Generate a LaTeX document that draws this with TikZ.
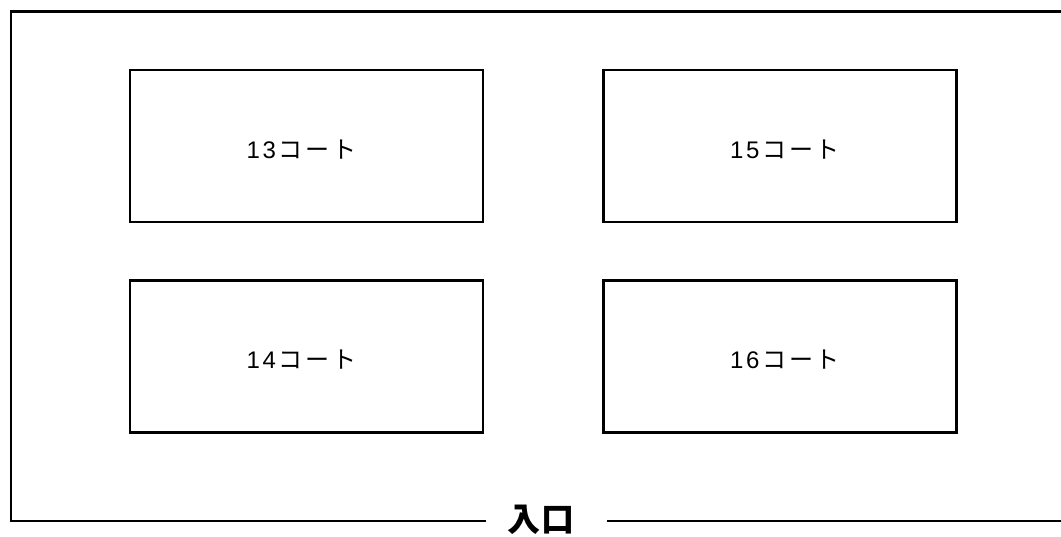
\documentclass[tikz,border=0pt]{standalone}
\usepackage{fontspec}
\setmainfont{Liberation Sans}
\newfontfamily\jpfont{Noto Sans CJK JP}
\newcommand{\courtlabel}[2]{#1\kern2.8pt#2\kern2.8pt{\jpfont コ\kern2.8pt ー\kern2.8pt ト}}
\begin{document}
\begin{tikzpicture}[x=1pt,y=-1pt,
  court/.style={draw=black,line width=2.2pt,minimum width=353pt,minimum height=152pt,inner sep=0pt},
  courttext/.style={inner sep=0pt,text height=24pt,text depth=0pt,font=\fontsize{24}{28}\selectfont},
  frame/.style={line width=2.2pt,line cap=rect}]
\useasboundingbox (0,0) rectangle (1061,536);
\node[court] (c13) at (306.5,146) {};
\node[court] (c15) at (780,146) {};
\node[court] (c14) at (306.5,356.5) {};
\node[court] (c16) at (780,356.5) {};
\node[courttext,xshift=-5pt] (t13) at (c13.center) {\courtlabel13};
\node[courttext,xshift=5pt] (t15) at (c15.center) {\courtlabel15};
\node[courttext,xshift=-5pt] (t14) at (c14.center) {\courtlabel14};
\node[courttext,xshift=5pt] (t16) at (c16.center) {\courtlabel16};
\node[font=\jpfont\bfseries\fontsize{33}{36}\selectfont,inner sep=0pt] (ent) at (541,520) {入\kern2pt 口};
\coordinate (tr) at (1062,11.5);
\coordinate (tl) at (11,11.5);
\coordinate (bl) at (11,521);
\coordinate (bgl) at (485,521);
\coordinate (bgr) at (608,521);
\coordinate (br) at (1062,521);
\draw[frame] (tr) -- (tl) -- (bl) -- (bgl);
\draw[frame] (bgr) -- (br);
\end{tikzpicture}
\end{document}
